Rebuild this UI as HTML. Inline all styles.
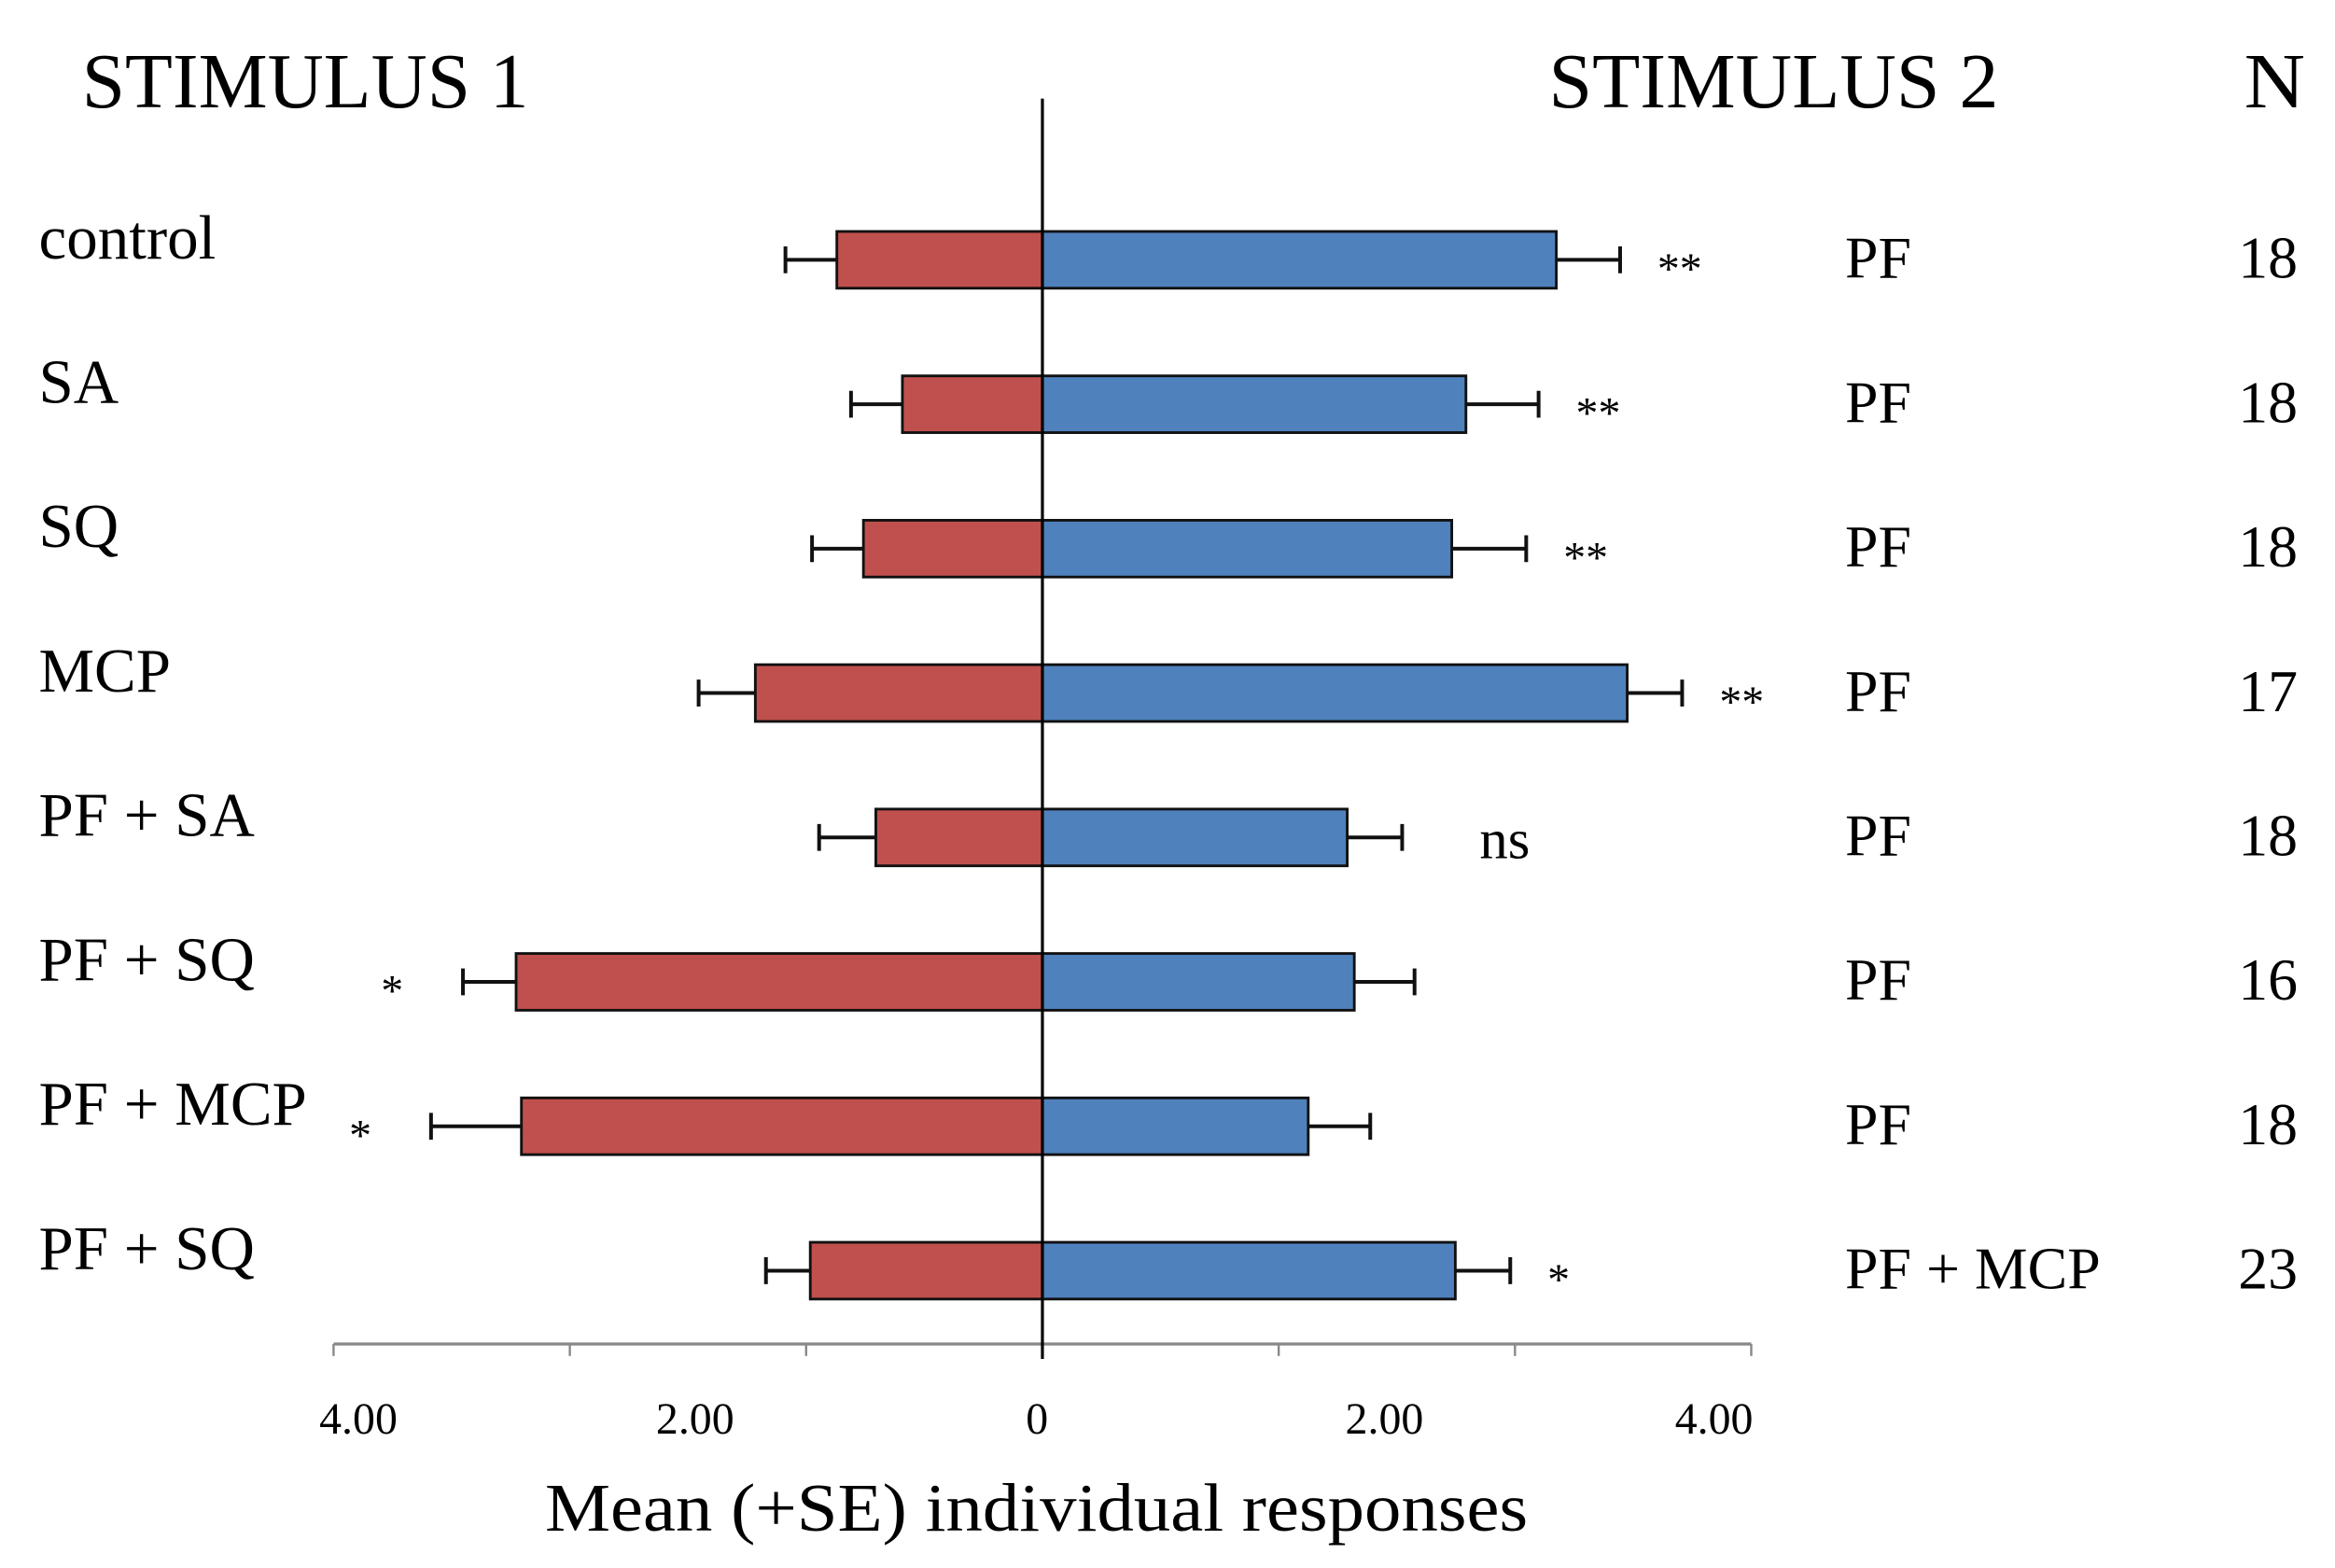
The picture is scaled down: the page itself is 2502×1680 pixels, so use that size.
<!DOCTYPE html>
<html><head><meta charset="utf-8"><style>
html,body{margin:0;padding:0;background:#fff;}
svg{display:block;}
text{font-family:"Liberation Serif",serif;fill:#000;}
</style></head><body>
<svg id="chart" width="2502" height="1680" viewBox="0 0 1568 1050" preserveAspectRatio="none" xmlns="http://www.w3.org/2000/svg">
<g id="static">
<text x="55" y="72" font-size="52" textLength="300" lengthAdjust="spacingAndGlyphs">STIMULUS 1</text>
<text x="1040" y="72" font-size="52" textLength="302" lengthAdjust="spacingAndGlyphs">STIMULUS 2</text>
<text x="1507" y="72" font-size="52" textLength="41" lengthAdjust="spacingAndGlyphs">N</text>
<text x="366" y="1025" font-size="46" textLength="660" lengthAdjust="spacingAndGlyphs">Mean (+SE) individual  responses</text>
</g>
<g id="marks"></g>
</svg>
<script>
const categories = ["control","SA","SQ","MCP","PF + SA","PF + SQ","PF + MCP","PF + SQ"];
const stim2 = ["PF","PF","PF","PF","PF","PF","PF","PF + MCP"];
const nValues = ["18","18","18","17","18","16","18","23"];
const stim1Means = [1.16,0.79,1.01,1.62,0.94,2.97,2.94,1.31];
const stim1SE = [0.29,0.29,0.29,0.32,0.32,0.30,0.51,0.25];
const stim2Means = [2.90,2.39,2.31,3.30,1.72,1.76,1.50,2.33];
const stim2SE = [0.36,0.41,0.42,0.31,0.31,0.34,0.35,0.31];
const stim1Sig = ["","","","","","*","*",""];
const stim2Sig = ["**","**","**","**","ns","","","*"];
const tickLabels = ["4.00","2.00","0","2.00","4.00"];
const tickLabelValues = [-3.86,-1.96,-0.03,1.93,3.79];

const NS="http://www.w3.org/2000/svg";
const g=document.getElementById('marks');
const X0=700, PXU=119;
const xs=v=>X0+v*PXU;
const rowY=i=>174+i*96.7;
const BH=38;
function el(tag,attrs,text){const e=document.createElementNS(NS,tag);for(const k in attrs)e.setAttribute(k,attrs[k]);if(text!==undefined)e.textContent=text;g.appendChild(e);return e;}

let ax=el('line',{x1:xs(-4),x2:xs(4),y1:900,y2:900,stroke:'#888','stroke-width':2});


for(let k=0;k<=6;k++){const v=-4+k*4/3;
 let t=el('line',{x1:xs(v),x2:xs(v),y1:900,y2:908,stroke:'#888','stroke-width':1.5});
 
 
}
tickLabels.forEach((s,i)=>{
 let t=el('text',{x:xs(tickLabelValues[i]),y:960,'font-size':30,'text-anchor':'middle'},s);
 
 
});

categories.forEach((c,i)=>{
 const cy=rowY(i), top=cy-BH/2;
 let r=el('rect',{x:xs(-stim1Means[i]),y:top,width:stim1Means[i]*PXU,height:BH,fill:'#C0504D',stroke:'#111','stroke-width':1.8});
 
 
 let b=el('rect',{x:X0,y:top,width:stim2Means[i]*PXU,height:BH,fill:'#4F81BD',stroke:'#111','stroke-width':1.8});
 
 
 const e1=xs(-stim1Means[i]-stim1SE[i]), e2=xs(stim2Means[i]+stim2SE[i]);
 let l1=el('path',{d:`M${xs(-stim1Means[i])},${cy}H${e1}M${e1},${cy-9}V${cy+9}`,stroke:'#111','stroke-width':2.5,fill:'none'});
 
 
 let l2=el('path',{d:`M${xs(stim2Means[i])},${cy}H${e2}M${e2},${cy-9}V${cy+9}`,stroke:'#111','stroke-width':2.5,fill:'none'});
 
 
 let cl=el('text',{x:26,y:cy-1,'font-size':42},c);
 
 
 let s2=el('text',{x:1239,y:cy+12,'font-size':40},stim2[i]);
 
 
 let n=el('text',{x:1503,y:cy+12,'font-size':40},nValues[i]);
 
 
 if(stim1Sig[i]){
  let s=el('text',{x:e1-40,y:cy+16,'font-size':30,'text-anchor':'end'},stim1Sig[i]);
  
  
 }
 if(stim2Sig[i]){
  const isNs=stim2Sig[i]==='ns';
  let s=el('text',{x:e2+(isNs?52:25),y:cy+(isNs?14:16),'font-size':isNs?38:30},stim2Sig[i]);
  
  
 }
});
let zl=el('line',{x1:X0,x2:X0,y1:66,y2:910,stroke:'#000','stroke-width':2});


</script>
</body></html>
